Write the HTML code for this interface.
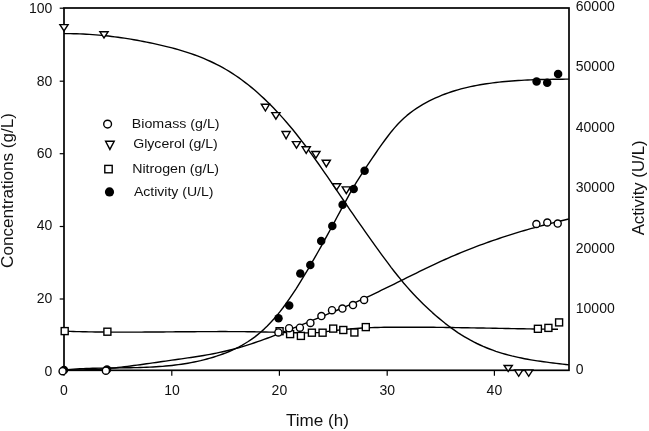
<!DOCTYPE html>
<html><head><meta charset="utf-8"><title>Fermentation profile</title>
<style>
html,body{margin:0;padding:0;background:#fff;}
body{width:649px;height:431px;overflow:hidden;}
svg{display:block;filter:grayscale(1);}
text{font-family:"Liberation Sans",Arial,sans-serif;fill:#111;}
.tk{font-size:14px;}
.ti{font-size:17.1px;}
.lg{font-size:13.4px;}
</style></head><body>
<svg width="649" height="431" viewBox="0 0 649 431">
<rect width="649" height="431" fill="#fff"/>
<g fill="none" stroke="#000" stroke-width="1.4" stroke-linejoin="round">
<path d="M64.0,331.21 L67.1,331.31 L70.2,331.41 L73.3,331.50 L76.4,331.58 L79.5,331.65 L82.6,331.72 L85.7,331.78 L88.9,331.84 L92.0,331.89 L95.1,331.94 L98.2,331.97 L101.3,332.01 L104.4,332.04 L107.5,332.06 L110.6,332.08 L113.7,332.10 L116.8,332.11 L119.9,332.12 L123.0,332.12 L126.1,332.12 L129.2,332.12 L132.4,332.11 L135.5,332.10 L138.6,332.09 L141.7,332.08 L144.8,332.06 L147.9,332.04 L151.0,332.02 L154.1,332.00 L157.2,331.98 L160.3,331.95 L163.4,331.93 L166.5,331.90 L169.6,331.88 L172.7,331.85 L175.8,331.82 L179.0,331.80 L182.1,331.77 L185.2,331.75 L188.3,331.72 L191.4,331.70 L194.5,331.68 L197.6,331.66 L200.7,331.64 L203.8,331.62 L206.9,331.61 L210.0,331.59 L213.1,331.58 L216.2,331.58 L219.3,331.57 L222.5,331.57 L225.6,331.57 L228.7,331.58 L231.8,331.59 L234.9,331.60 L238.0,331.62 L241.1,331.64 L244.2,331.67 L247.3,331.70 L250.4,331.74 L253.5,331.78 L256.6,331.83 L259.7,331.89 L262.8,331.95 L265.9,332.01 L269.1,332.09 L272.2,332.16 L275.3,332.25 L278.4,332.34 L281.5,332.42 L284.6,332.51 L287.7,332.59 L290.8,332.67 L293.9,332.74 L297.0,332.79 L300.1,332.84 L303.2,332.86 L306.3,332.87 L309.4,332.86 L312.6,332.80 L315.7,332.67 L318.8,332.46 L321.9,332.15 L325.0,331.79 L328.1,331.41 L331.2,331.02 L334.3,330.63 L337.4,330.26 L340.5,329.90 L343.6,329.55 L346.7,329.23 L349.8,328.94 L352.9,328.68 L356.1,328.45 L359.2,328.24 L362.3,328.05 L365.4,327.89 L368.5,327.75 L371.6,327.63 L374.7,327.53 L377.8,327.44 L380.9,327.37 L384.0,327.32 L387.1,327.27 L390.2,327.24 L393.3,327.21 L396.4,327.20 L399.5,327.19 L402.7,327.18 L405.8,327.18 L408.9,327.18 L412.0,327.18 L415.1,327.19 L418.2,327.20 L421.3,327.22 L424.4,327.24 L427.5,327.26 L430.6,327.29 L433.7,327.31 L436.8,327.34 L439.9,327.38 L443.0,327.41 L446.2,327.45 L449.3,327.49 L452.4,327.54 L455.5,327.58 L458.6,327.63 L461.7,327.68 L464.8,327.73 L467.9,327.78 L471.0,327.83 L474.1,327.88 L477.2,327.94 L480.3,327.99 L483.4,328.05 L486.5,328.11 L489.6,328.17 L492.8,328.23 L495.9,328.28 L499.0,328.34 L502.1,328.40 L505.2,328.46 L508.3,328.52 L511.4,328.58 L514.5,328.64 L517.6,328.69 L520.7,328.75 L523.8,328.81 L526.9,328.86 L530.0,328.91 L533.1,328.97 L536.3,329.02 L539.4,329.07 L542.5,329.11 L545.6,329.16 L548.7,329.20 L551.8,329.25 L554.9,329.29 L558.0,329.32"/>
<path d="M64.0,33.67 L67.2,33.66 L70.4,33.67 L73.5,33.72 L76.7,33.79 L79.9,33.89 L83.1,34.02 L86.2,34.18 L89.4,34.37 L92.6,34.58 L95.8,34.83 L98.9,35.09 L102.1,35.39 L105.3,35.71 L108.5,36.06 L111.6,36.43 L114.8,36.83 L118.0,37.25 L121.2,37.70 L124.3,38.17 L127.5,38.66 L130.7,39.18 L133.9,39.72 L137.1,40.29 L140.2,40.87 L143.4,41.48 L146.6,42.11 L149.8,42.76 L152.9,43.44 L156.1,44.13 L159.3,44.84 L162.5,45.58 L165.6,46.34 L168.8,47.12 L172.0,47.94 L175.2,48.79 L178.3,49.68 L181.5,50.60 L184.7,51.57 L187.9,52.59 L191.0,53.65 L194.2,54.77 L197.4,55.94 L200.6,57.17 L203.7,58.47 L206.9,59.82 L210.1,61.25 L213.3,62.75 L216.5,64.32 L219.6,65.97 L222.8,67.70 L226.0,69.51 L229.2,71.42 L232.3,73.41 L235.5,75.49 L238.7,77.67 L241.9,79.95 L245.0,82.33 L248.2,84.80 L251.4,87.38 L254.6,90.04 L257.7,92.81 L260.9,95.67 L264.1,98.63 L267.3,101.68 L270.4,104.83 L273.6,108.08 L276.8,111.42 L280.0,114.86 L283.2,118.39 L286.3,122.02 L289.5,125.74 L292.7,129.56 L295.9,133.47 L299.0,137.48 L302.2,141.58 L305.4,145.77 L308.6,150.04 L311.7,154.39 L314.9,158.80 L318.1,163.27 L321.3,167.79 L324.4,172.35 L327.6,176.95 L330.8,181.58 L334.0,186.24 L337.1,190.90 L340.3,195.58 L343.5,200.25 L346.7,204.92 L349.8,209.58 L353.0,214.22 L356.2,218.83 L359.4,223.41 L362.6,227.95 L365.7,232.47 L368.9,236.95 L372.1,241.40 L375.3,245.81 L378.4,250.19 L381.6,254.54 L384.8,258.85 L388.0,263.12 L391.1,267.33 L394.3,271.45 L397.5,275.49 L400.7,279.42 L403.8,283.22 L407.0,286.90 L410.2,290.46 L413.4,293.91 L416.5,297.26 L419.7,300.50 L422.9,303.66 L426.1,306.73 L429.3,309.71 L432.4,312.61 L435.6,315.43 L438.8,318.15 L442.0,320.78 L445.1,323.33 L448.3,325.78 L451.5,328.13 L454.7,330.40 L457.8,332.56 L461.0,334.63 L464.2,336.59 L467.4,338.46 L470.5,340.23 L473.7,341.91 L476.9,343.50 L480.1,345.00 L483.2,346.41 L486.4,347.75 L489.6,349.01 L492.8,350.19 L495.9,351.31 L499.1,352.35 L502.3,353.33 L505.5,354.26 L508.7,355.12 L511.8,355.93 L515.0,356.69 L518.2,357.40 L521.4,358.06 L524.5,358.69 L527.7,359.27 L530.9,359.82 L534.1,360.34 L537.2,360.83 L540.4,361.30 L543.6,361.74 L546.8,362.17 L549.9,362.58 L553.1,362.97 L556.3,363.36 L559.5,363.74 L562.6,364.12 L565.8,364.50 L569.0,364.89"/>
<path d="M64.0,369.60 L67.2,369.75 L70.3,369.86 L73.5,369.92 L76.7,369.95 L79.9,369.94 L83.0,369.90 L86.2,369.82 L89.4,369.71 L92.6,369.57 L95.7,369.40 L98.9,369.20 L102.1,368.97 L105.3,368.72 L108.4,368.44 L111.6,368.15 L114.8,367.83 L118.0,367.49 L121.1,367.13 L124.3,366.76 L127.5,366.37 L130.7,365.97 L133.8,365.56 L137.0,365.14 L140.2,364.70 L143.4,364.26 L146.5,363.81 L149.7,363.36 L152.9,362.91 L156.1,362.45 L159.2,361.99 L162.4,361.53 L165.6,361.08 L168.8,360.63 L171.9,360.18 L175.1,359.74 L178.3,359.29 L181.5,358.85 L184.6,358.39 L187.8,357.93 L191.0,357.47 L194.2,356.98 L197.3,356.49 L200.5,355.98 L203.7,355.45 L206.9,354.90 L210.0,354.32 L213.2,353.72 L216.4,353.09 L219.6,352.43 L222.7,351.74 L225.9,351.02 L229.1,350.25 L232.3,349.45 L235.4,348.61 L238.6,347.72 L241.8,346.80 L245.0,345.84 L248.1,344.84 L251.3,343.81 L254.5,342.75 L257.7,341.66 L260.8,340.55 L264.0,339.41 L267.2,338.25 L270.4,337.08 L273.5,335.88 L276.7,334.67 L279.9,333.45 L283.1,332.22 L286.2,330.97 L289.4,329.72 L292.6,328.46 L295.8,327.19 L298.9,325.91 L302.1,324.63 L305.3,323.34 L308.5,322.04 L311.6,320.74 L314.8,319.44 L318.0,318.14 L321.2,316.83 L324.3,315.52 L327.5,314.21 L330.7,312.89 L333.9,311.57 L337.0,310.24 L340.2,308.91 L343.4,307.56 L346.6,306.21 L349.7,304.84 L352.9,303.45 L356.1,302.06 L359.3,300.64 L362.4,299.21 L365.6,297.76 L368.8,296.29 L372.0,294.80 L375.1,293.29 L378.3,291.77 L381.5,290.24 L384.7,288.69 L387.8,287.14 L391.0,285.58 L394.2,284.01 L397.4,282.44 L400.5,280.86 L403.7,279.28 L406.9,277.71 L410.1,276.14 L413.2,274.57 L416.4,273.01 L419.6,271.45 L422.8,269.91 L425.9,268.37 L429.1,266.85 L432.3,265.34 L435.5,263.85 L438.6,262.38 L441.8,260.93 L445.0,259.50 L448.2,258.09 L451.3,256.70 L454.5,255.34 L457.7,254.00 L460.9,252.68 L464.0,251.38 L467.2,250.10 L470.4,248.85 L473.6,247.62 L476.7,246.40 L479.9,245.21 L483.1,244.04 L486.3,242.89 L489.4,241.75 L492.6,240.64 L495.8,239.55 L499.0,238.47 L502.1,237.41 L505.3,236.38 L508.5,235.36 L511.7,234.35 L514.8,233.37 L518.0,232.40 L521.2,231.45 L524.4,230.52 L527.5,229.60 L530.7,228.70 L533.9,227.81 L537.1,226.94 L540.2,226.09 L543.4,225.25 L546.6,224.43 L549.8,223.62 L552.9,222.82 L556.1,222.04 L559.3,221.27 L562.5,220.52 L565.6,219.78 L568.8,219.05"/>
<path d="M64.0,369.91 L67.2,369.63 L70.4,369.38 L73.5,369.16 L76.7,368.96 L79.9,368.79 L83.1,368.64 L86.2,368.51 L89.4,368.40 L92.6,368.30 L95.8,368.22 L98.9,368.15 L102.1,368.10 L105.3,368.05 L108.5,368.00 L111.6,367.97 L114.8,367.93 L118.0,367.89 L121.2,367.86 L124.3,367.81 L127.5,367.77 L130.7,367.71 L133.9,367.65 L137.1,367.58 L140.2,367.49 L143.4,367.38 L146.6,367.26 L149.8,367.12 L152.9,366.96 L156.1,366.78 L159.3,366.57 L162.5,366.33 L165.6,366.06 L168.8,365.76 L172.0,365.43 L175.2,365.07 L178.3,364.66 L181.5,364.22 L184.7,363.74 L187.9,363.21 L191.0,362.64 L194.2,362.02 L197.4,361.35 L200.6,360.63 L203.7,359.86 L206.9,359.03 L210.1,358.15 L213.3,357.21 L216.5,356.20 L219.6,355.14 L222.8,354.01 L226.0,352.80 L229.2,351.52 L232.3,350.14 L235.5,348.67 L238.7,347.07 L241.9,345.36 L245.0,343.52 L248.2,341.53 L251.4,339.39 L254.6,337.09 L257.7,334.62 L260.9,331.96 L264.1,329.11 L267.3,326.06 L270.4,322.79 L273.6,319.31 L276.8,315.59 L280.0,311.65 L283.2,307.50 L286.3,303.16 L289.5,298.64 L292.7,293.94 L295.9,289.09 L299.0,284.09 L302.2,278.96 L305.4,273.71 L308.6,268.35 L311.7,262.90 L314.9,257.37 L318.1,251.76 L321.3,246.09 L324.4,240.36 L327.6,234.57 L330.8,228.74 L334.0,222.87 L337.1,216.97 L340.3,211.05 L343.5,205.15 L346.7,199.32 L349.8,193.61 L353.0,188.05 L356.2,182.70 L359.4,177.58 L362.6,172.64 L365.7,167.84 L368.9,163.12 L372.1,158.43 L375.3,153.76 L378.4,149.15 L381.6,144.63 L384.8,140.23 L388.0,135.99 L391.1,131.93 L394.3,128.10 L397.5,124.53 L400.7,121.23 L403.8,118.20 L407.0,115.41 L410.2,112.85 L413.4,110.49 L416.5,108.31 L419.7,106.29 L422.9,104.41 L426.1,102.64 L429.3,100.98 L432.4,99.40 L435.6,97.92 L438.8,96.53 L442.0,95.22 L445.1,93.99 L448.3,92.84 L451.5,91.76 L454.7,90.75 L457.8,89.81 L461.0,88.93 L464.2,88.11 L467.4,87.35 L470.5,86.65 L473.7,85.99 L476.9,85.38 L480.1,84.81 L483.2,84.28 L486.4,83.79 L489.6,83.34 L492.8,82.91 L495.9,82.52 L499.1,82.15 L502.3,81.82 L505.5,81.51 L508.7,81.23 L511.8,80.97 L515.0,80.73 L518.2,80.52 L521.4,80.33 L524.5,80.16 L527.7,80.00 L530.9,79.87 L534.1,79.75 L537.2,79.64 L540.4,79.55 L543.6,79.47 L546.8,79.40 L549.9,79.35 L553.1,79.30 L556.3,79.25 L559.5,79.22 L562.6,79.19 L565.8,79.16 L569.0,79.14"/>
</g>
<g fill="none" stroke="#000" stroke-width="1.7">
<rect x="64.0" y="8.0" width="505.0" height="362.3"/>
</g>
<g stroke="#000" stroke-width="1.2">
<line x1="59.7" y1="8.2" x2="64.0" y2="8.2"/>
<line x1="59.7" y1="81.2" x2="64.0" y2="81.2"/>
<line x1="59.7" y1="153.7" x2="64.0" y2="153.7"/>
<line x1="59.7" y1="226.5" x2="64.0" y2="226.5"/>
<line x1="59.7" y1="299.0" x2="64.0" y2="299.0"/>
<line x1="59.7" y1="371.3" x2="64.0" y2="371.3"/>
<line x1="64" y1="370.3" x2="64" y2="375.8"/>
<line x1="171.8" y1="370.3" x2="171.8" y2="375.8"/>
<line x1="279.4" y1="370.3" x2="279.4" y2="375.8"/>
<line x1="387.2" y1="370.3" x2="387.2" y2="375.8"/>
<line x1="494.4" y1="370.3" x2="494.4" y2="375.8"/>
</g>
<g fill="#000" stroke="none">
<circle cx="64" cy="370" r="4.25"/>
<circle cx="107" cy="369.5" r="4.25"/>
<circle cx="278.5" cy="318.2" r="4.25"/>
<circle cx="289.2" cy="305.6" r="4.25"/>
<circle cx="300.3" cy="273.5" r="4.25"/>
<circle cx="310.3" cy="265.1" r="4.25"/>
<circle cx="321.2" cy="241.1" r="4.25"/>
<circle cx="332.3" cy="225.9" r="4.25"/>
<circle cx="342.6" cy="204.8" r="4.25"/>
<circle cx="353.7" cy="189.0" r="4.25"/>
<circle cx="364.6" cy="170.8" r="4.25"/>
<circle cx="536.6" cy="81.4" r="4.25"/>
<circle cx="547.2" cy="82.8" r="4.25"/>
<circle cx="558.1" cy="73.9" r="4.25"/>
</g>
<g fill="#fff" stroke="#000" stroke-width="1.4">
<rect x="61.20" y="327.60" width="7" height="7"/>
<rect x="103.90" y="328.20" width="7" height="7"/>
<rect x="276.10" y="327.70" width="7" height="7"/>
<rect x="286.60" y="330.60" width="7" height="7"/>
<rect x="297.40" y="332.40" width="7" height="7"/>
<rect x="308.40" y="329.20" width="7" height="7"/>
<rect x="319.10" y="329.20" width="7" height="7"/>
<rect x="329.70" y="325.10" width="7" height="7"/>
<rect x="339.80" y="326.50" width="7" height="7"/>
<rect x="350.90" y="329.00" width="7" height="7"/>
<rect x="362.30" y="323.60" width="7" height="7"/>
<rect x="534.40" y="325.30" width="7" height="7"/>
<rect x="544.90" y="324.40" width="7" height="7"/>
<rect x="555.60" y="318.90" width="7" height="7"/>
<polygon points="59.9,24.6 68.1,24.6 64.0,31.0"/>
<polygon points="99.9,31.8 108.1,31.8 104.0,37.9"/>
<polygon points="261.3,104.2 269.5,104.2 265.4,111.0"/>
<polygon points="271.8,112.6 280.0,112.6 275.9,119.1"/>
<polygon points="282.0,131.5 290.2,131.5 286.1,138.8"/>
<polygon points="292.4,141.6 300.6,141.6 296.5,148.1"/>
<polygon points="302.1,146.8 310.3,146.8 306.2,153.4"/>
<polygon points="311.8,151.5 320.0,151.5 315.9,158.1"/>
<polygon points="322.2,160.2 330.4,160.2 326.3,166.9"/>
<polygon points="332.5,183.8 340.7,183.8 336.6,189.9"/>
<polygon points="342.2,186.9 350.4,186.9 346.3,193.6"/>
<polygon points="504.1,365.5 512.3,365.5 508.2,371.4"/>
<polygon points="514.6,370.0 522.8,370.0 518.7,376.3"/>
<polygon points="524.6,370.0 532.8,370.0 528.7,376.3"/>
<circle cx="62.6" cy="371.2" r="3.55"/>
<circle cx="105.9" cy="370.7" r="3.55"/>
<circle cx="278.4" cy="332.4" r="3.55"/>
<circle cx="289.1" cy="328.2" r="3.55"/>
<circle cx="299.9" cy="327.7" r="3.55"/>
<circle cx="310.4" cy="322.9" r="3.55"/>
<circle cx="321.4" cy="316.1" r="3.55"/>
<circle cx="332.0" cy="310.2" r="3.55"/>
<circle cx="342.4" cy="308.6" r="3.55"/>
<circle cx="353.0" cy="305.1" r="3.55"/>
<circle cx="364.1" cy="299.9" r="3.55"/>
<circle cx="536.4" cy="224.0" r="3.55"/>
<circle cx="547.3" cy="222.5" r="3.55"/>
<circle cx="557.7" cy="223.6" r="3.55"/>
</g>
<text class="tk" x="52.3" y="12.67" text-anchor="end" transform="rotate(0.02 52.3 12.67)">100</text>
<text class="tk" x="52.3" y="85.52" text-anchor="end" transform="rotate(0.02 52.3 85.52)">80</text>
<text class="tk" x="52.3" y="158.32" text-anchor="end" transform="rotate(0.02 52.3 158.32)">60</text>
<text class="tk" x="52.3" y="230.42" text-anchor="end" transform="rotate(0.02 52.3 230.42)">40</text>
<text class="tk" x="52.3" y="303.42" text-anchor="end" transform="rotate(0.02 52.3 303.42)">20</text>
<text class="tk" x="52.3" y="376.22" text-anchor="end" transform="rotate(0.02 52.3 376.22)">0</text>
<text class="tk" x="64" y="394.9" text-anchor="middle" transform="rotate(0.02 64 394.9)">0</text>
<text class="tk" x="172" y="394.9" text-anchor="middle" transform="rotate(0.02 172 394.9)">10</text>
<text class="tk" x="279.4" y="394.9" text-anchor="middle" transform="rotate(0.02 279.4 394.9)">20</text>
<text class="tk" x="387.2" y="394.9" text-anchor="middle" transform="rotate(0.02 387.2 394.9)">30</text>
<text class="tk" x="494.4" y="394.9" text-anchor="middle" transform="rotate(0.02 494.4 394.9)">40</text>
<text class="tk" x="575.8" y="373.57" transform="rotate(0.02 575.8 373.57)">0</text>
<text class="tk" x="575.8" y="313.10" transform="rotate(0.02 575.8 313.10)">10000</text>
<text class="tk" x="575.8" y="252.63" transform="rotate(0.02 575.8 252.63)">20000</text>
<text class="tk" x="575.8" y="192.16" transform="rotate(0.02 575.8 192.16)">30000</text>
<text class="tk" x="575.8" y="131.69" transform="rotate(0.02 575.8 131.69)">40000</text>
<text class="tk" x="575.8" y="71.22" transform="rotate(0.02 575.8 71.22)">50000</text>
<text class="tk" x="575.8" y="10.75" transform="rotate(0.02 575.8 10.75)">60000</text>
<text class="ti" x="317.5" y="426.3" text-anchor="middle">Time (h)</text>
<text class="ti" transform="translate(12.7,190.5) rotate(-90)" text-anchor="middle">Concentrations (g/L)</text>
<text class="ti" style="font-size:16.75px" transform="translate(644.4,187.9) rotate(-90)" text-anchor="middle">Activity (U/L)</text>
<g fill="#fff" stroke="#000" stroke-width="1.4">
<circle cx="107.6" cy="124.1" r="3.9"/>
<polygon points="105.6,141.3 114.2,141.3 109.9,149.4"/>
<rect x="104.8" y="165.4" width="7.4" height="7.4"/>
</g>
<circle cx="109.5" cy="191.9" r="4.6" fill="#000"/>
<text class="lg" x="131.8" y="128.1" textLength="87.8" lengthAdjust="spacingAndGlyphs" transform="rotate(0.02 131.8 128.1)">Biomass (g/L)</text>
<text class="lg" x="133.2" y="147.9" textLength="84.6" lengthAdjust="spacingAndGlyphs" transform="rotate(0.02 133.2 147.9)">Glycerol (g/L)</text>
<text class="lg" x="132.2" y="173.3" textLength="86.9" lengthAdjust="spacingAndGlyphs" transform="rotate(0.02 132.2 173.3)">Nitrogen (g/L)</text>
<text class="lg" x="133.9" y="196.0" textLength="79.6" lengthAdjust="spacingAndGlyphs" transform="rotate(0.02 133.9 196.0)">Activity (U/L)</text>
</svg></body></html>
